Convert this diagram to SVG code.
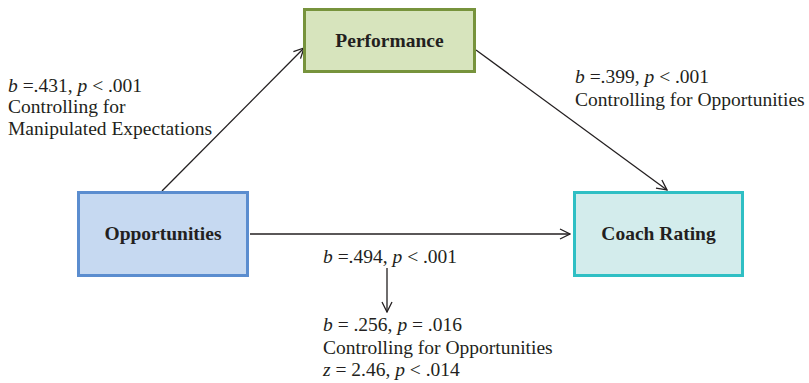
<svg xmlns="http://www.w3.org/2000/svg" width="809" height="383" viewBox="0 0 809 383">
<style>
.t{font-family:"Liberation Serif","Times New Roman",serif;font-size:19.5px;fill:#231f20}
.n{font-family:"Liberation Serif","Times New Roman",serif;font-size:19.5px;font-weight:bold;fill:#231f20;text-anchor:middle}
.c{stroke:#231f20;stroke-width:1.3;fill:none;marker-end:url(#ah)}
</style>
<defs>
<marker id="ah" viewBox="0 0 12 12" refX="11" refY="6" markerWidth="12" markerHeight="12" markerUnits="userSpaceOnUse" orient="auto">
<polyline points="1,1 11,6 1,11" fill="none" stroke="#231f20" stroke-width="1.3"/>
</marker>
</defs>
<rect width="809" height="383" fill="#ffffff"/>
<g id="connectors">
<line class="c" x1="162" y1="191" x2="304" y2="48"/>
<line class="c" x1="476" y1="50" x2="667" y2="190"/>
<line class="c" x1="250" y1="234" x2="570" y2="234"/>
<line class="c" x1="387" y1="268" x2="387" y2="312"/>
</g>
<g id="performance">
<rect x="304.5" y="9.5" width="170" height="62" fill="#d7e4bd" stroke="#77933c" stroke-width="3"/>
<text class="n" x="389.5" y="47">Performance</text>
</g>
<g id="opportunities">
<rect x="78.5" y="192.5" width="169" height="83" fill="#c6d9f1" stroke="#5b8dcf" stroke-width="3"/>
<text class="n" x="163" y="240">Opportunities</text>
</g>
<g id="coach-rating">
<rect x="574.5" y="192.5" width="168" height="83" fill="#d3ecec" stroke="#2fbfc4" stroke-width="3"/>
<text class="n" x="658.5" y="240">Coach Rating</text>
</g>
<g id="labels">
<text class="t" x="8" y="92"><tspan font-style="italic">b</tspan> =.431, <tspan font-style="italic">p</tspan> &lt; .001</text>
<text class="t" x="8" y="113">Controlling for</text>
<text class="t" x="8" y="135">Manipulated Expectations</text>
<text class="t" x="575" y="83"><tspan font-style="italic">b</tspan> =.399, <tspan font-style="italic">p</tspan> &lt; .001</text>
<text class="t" x="575" y="106">Controlling for Opportunities</text>
<text class="t" x="323" y="263"><tspan font-style="italic">b</tspan> =.494, <tspan font-style="italic">p</tspan> &lt; .001</text>
<text class="t" x="323" y="331"><tspan font-style="italic">b</tspan> = .256, <tspan font-style="italic">p</tspan> = .016</text>
<text class="t" x="323" y="354">Controlling for Opportunities</text>
<text class="t" x="323" y="376"><tspan font-style="italic">z</tspan> = 2.46, <tspan font-style="italic">p</tspan> &lt; .014</text>
</g>
</svg>
